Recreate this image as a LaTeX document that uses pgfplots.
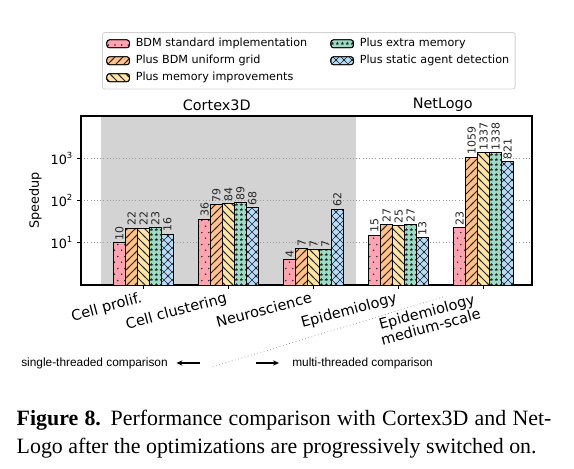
\documentclass[border=0pt]{standalone}
\usepackage{fontspec}
\setmainfont{DejaVu Sans}
\newfontfamily\libsans{Liberation Sans}
\newfontfamily\capfont{Liberation Serif}
\usepackage{pgfplots}
\pgfplotsset{compat=1.18}
\usetikzlibrary{patterns,arrows.meta}

\definecolor{pinkc}{RGB}{255,163,177}
\definecolor{orangec}{RGB}{255,193,138}
\definecolor{yellowc}{RGB}{255,228,166}
\definecolor{greenc}{RGB}{156,220,196}
\definecolor{bluec}{RGB}{181,220,251}
\definecolor{graybg}{RGB}{211,211,211}
\colorlet{hatchc}{black!85}

\pgfdeclarepatternformonly{mydots}{\pgfpointorigin}{\pgfqpoint{5pt}{9pt}}{\pgfqpoint{5pt}{9pt}}{%
  \pgfpathcircle{\pgfqpoint{1.25pt}{2.25pt}}{0.65pt}%
  \pgfpathcircle{\pgfqpoint{3.75pt}{6.75pt}}{0.65pt}%
  \pgfusepath{fill}}
\pgfdeclarepatternformonly{myne}{\pgfqpoint{-1pt}{-1pt}}{\pgfqpoint{7pt}{7pt}}{\pgfqpoint{6pt}{6pt}}{%
  \pgfsetlinewidth{0.6pt}%
  \pgfpathmoveto{\pgfqpoint{-1pt}{-1pt}}\pgfpathlineto{\pgfqpoint{7pt}{7pt}}%
  \pgfusepath{stroke}}
\pgfdeclarepatternformonly{mynw}{\pgfqpoint{-1pt}{-1pt}}{\pgfqpoint{7pt}{7pt}}{\pgfqpoint{6pt}{6pt}}{%
  \pgfsetlinewidth{0.6pt}%
  \pgfpathmoveto{\pgfqpoint{-1pt}{7pt}}\pgfpathlineto{\pgfqpoint{7pt}{-1pt}}%
  \pgfusepath{stroke}}
\pgfdeclarepatternformonly{myx}{\pgfqpoint{-1pt}{-1pt}}{\pgfqpoint{7pt}{7pt}}{\pgfqpoint{6pt}{6pt}}{%
  \pgfsetlinewidth{0.5pt}%
  \pgfpathmoveto{\pgfqpoint{-1pt}{-1pt}}\pgfpathlineto{\pgfqpoint{7pt}{7pt}}%
  \pgfpathmoveto{\pgfqpoint{-1pt}{7pt}}\pgfpathlineto{\pgfqpoint{7pt}{-1pt}}%
  \pgfusepath{stroke}}
\pgfdeclarepatternformonly{mystars}{\pgfpointorigin}{\pgfqpoint{4pt}{4pt}}{\pgfqpoint{4pt}{4pt}}{%
  \pgfpathmoveto{\pgfqpoint{2pt}{3.6pt}}%
  \pgfpathlineto{\pgfqpoint{1.618pt}{2.526pt}}%
  \pgfpathlineto{\pgfqpoint{0.478pt}{2.494pt}}%
  \pgfpathlineto{\pgfqpoint{1.382pt}{1.799pt}}%
  \pgfpathlineto{\pgfqpoint{1.06pt}{0.706pt}}%
  \pgfpathlineto{\pgfqpoint{2pt}{1.35pt}}%
  \pgfpathlineto{\pgfqpoint{2.94pt}{0.706pt}}%
  \pgfpathlineto{\pgfqpoint{2.618pt}{1.799pt}}%
  \pgfpathlineto{\pgfqpoint{3.522pt}{2.494pt}}%
  \pgfpathlineto{\pgfqpoint{2.382pt}{2.526pt}}%
  \pgfpathclose
  \pgfusepath{fill}}

\pgfplotsset{
  mybar/.style={ybar, bar width=0.141, draw=black, line width=0.7pt,
    point meta=explicit symbolic,
    nodes near coords,
    every node near coord/.style={xshift=#1, rotate=90, anchor=west, inner sep=1.5pt,
      font=\fontsize{8.2}{9}\selectfont, text=black!85}},
  legimg/.style={legend image code/.code={%
    \draw[line width=0.6pt, draw=black, ##1] (0pt,-3pt) rectangle (17pt,3pt);}},
}

\begin{document}
\begin{tikzpicture}
\begin{axis}[
  set layers,
  at={(0pt,0pt)}, anchor=south west,
  scale only axis, width=338.25pt, height=126.75pt,
  ymode=log, ymin=1, ymax=10000,
  xmin=-0.735, xmax=4.57,
  xtick={0,1,2,3,4},
  xticklabels={Cell prolif., Cell clustering, Neuroscience, Epidemiology, {Epidemiology\\medium-scale}},
  xticklabel style={rotate=15, anchor=north east, align=center, inner sep=1pt,
    xshift={-2-4*(\ticknum==4)},
    font=\fontsize{10.9}{11.5}\selectfont},
  ytick={10,100,1000},
  yticklabels={10\raisebox{0.85ex}{\fontsize{6.3}{7}\selectfont 1},
               10\raisebox{0.85ex}{\fontsize{6.3}{7}\selectfont 2},
               10\raisebox{0.85ex}{\fontsize{6.3}{7}\selectfont 3}},
  yticklabel style={font=\fontsize{9.6}{10}\selectfont},
  yminorticks=false,
  tick pos=left, tick align=outside,
  major tick length=3pt,
  tick style={black, line width=0.6pt},
  ymajorgrids, major grid style={gray!80, dotted, line width=0.5pt},
  axis line style={line width=0.9pt},
  ylabel={Speedup},
  ylabel style={font=\fontsize{9.6}{10}\selectfont},
  legend style={at={(0.0466,1.497)}, anchor=north west,
    draw=gray!35, rounded corners=2pt, line width=0.6pt,
    font=\fontsize{8.4}{9.5}\selectfont,
    inner xsep=3pt, inner ysep=3pt,
    nodes={inner sep=1.4pt, text height=6.4pt, text depth=1.9pt},
    /tikz/row sep=1.6pt, /tikz/column sep=3pt,
    /tikz/column 2/.style={column sep=16pt}},
  legend columns=2, legend cell align=left,
]
\pgfplotsextra{%
\begin{pgfonlayer}{axis background}
\fill[graybg] (axis cs:-0.5,1) rectangle (axis cs:2.5,10000);
\end{pgfonlayer}}

\addlegendimage{legimg, fill=pinkc, postaction={pattern=mydots, pattern color=hatchc}}
\addlegendentry{BDM standard implementation}
\addlegendimage{legimg, fill=greenc, postaction={pattern=mystars, pattern color=hatchc}}
\addlegendentry{Plus extra memory}
\addlegendimage{legimg, fill=orangec, postaction={pattern=myne, pattern color=hatchc}}
\addlegendentry{Plus BDM uniform grid}
\addlegendimage{legimg, fill=bluec, postaction={pattern=myx, pattern color=hatchc}}
\addlegendentry{Plus static agent detection}
\addlegendimage{legimg, fill=yellowc, postaction={pattern=mynw, pattern color=hatchc}}
\addlegendentry{Plus memory improvements}

% BDM standard implementation
\addplot[mybar=-17.98pt, forget plot, bar shift=-0.282, fill=pinkc, postaction={pattern=mydots, pattern color=hatchc}]
  coordinates {(0,10) [10] (1,36) [36] (2,4) [4] (3,15) [15] (4,23) [23]};
% Plus BDM uniform grid
\addplot[mybar=-8.99pt, forget plot, bar shift=-0.141, fill=orangec, postaction={pattern=myne, pattern color=hatchc}]
  coordinates {(0,22) [22] (1,79) [79] (2,7.2) [7] (3,27) [27] (4,1059) [1059]};
% Plus memory improvements
\addplot[mybar=0pt, forget plot, bar shift=0, fill=yellowc, postaction={pattern=mynw, pattern color=hatchc}]
  coordinates {(0,22) [22] (1,84) [84] (2,6.9) [7] (3,25) [25] (4,1337) [1337]};
% Plus extra memory
\addplot[mybar=8.99pt, forget plot, bar shift=0.141, fill=greenc, postaction={pattern=mystars, pattern color=hatchc}]
  coordinates {(0,23) [23] (1,89) [89] (2,6.9) [7] (3,27) [27] (4,1338) [1338]};
% Plus static agent detection
\addplot[mybar=17.98pt, forget plot, bar shift=0.282, fill=bluec, postaction={pattern=myx, pattern color=hatchc}]
  coordinates {(0,16) [16] (1,68) [68] (2,62) [62] (3,13) [13] (4,821) [821]};
\end{axis}

\node[font=\fontsize{10.8}{12}\selectfont] at (101.8pt,134.5pt) {Cortex3D};
\node[font=\fontsize{10.8}{12}\selectfont] at (271.3pt,135pt) {NetLogo};

\draw[gray, dotted, line width=0.5pt] (271.5pt,-9pt) -- (98.25pt,-61.5pt);
\node[anchor=east, inner sep=0pt, font=\libsans\fontsize{8.9}{10}\selectfont] at (65.25pt,-58.5pt) {single-threaded comparison};
\node[anchor=west, inner sep=0pt, font=\libsans\fontsize{8.9}{10}\selectfont] at (158.25pt,-58.5pt) {multi-threaded comparison};
\draw[-{Stealth[length=4.5pt,width=4pt]}, line width=0.8pt] (89.25pt,-58.5pt) -- (71.6pt,-58.5pt);
\draw[-{Stealth[length=4.5pt,width=4pt]}, line width=0.8pt] (131.25pt,-58.5pt) -- (148.5pt,-58.5pt);

\node[anchor=base west, inner sep=0pt, font=\capfont\fontsize{16.4}{18}\selectfont] at (-48.4pt,-105.5pt)
  {\makebox[401pt][s]{\textbf{Figure 8.} Performance comparison with Cortex3D and Net-}};
\node[anchor=base west, inner sep=0pt, font=\capfont\fontsize{16.4}{18}\selectfont] at (-48.4pt,-126pt)
  {Logo after the optimizations are progressively switched on.};

\pgfresetboundingbox
\path (-60.75pt,-137.25pt) rectangle (369.75pt,213.75pt);
\end{tikzpicture}
\end{document}
